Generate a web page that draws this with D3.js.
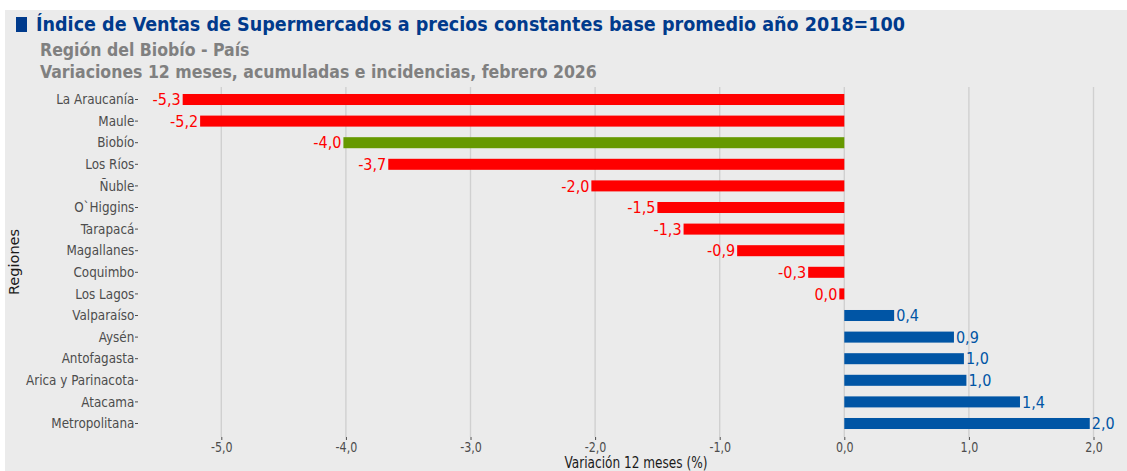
<!DOCTYPE html>
<html>
<head>
<meta charset="utf-8">
<script src="https://cdn.jsdelivr.net/npm/d3@7"></script>
<style>
  html, body { margin: 0; padding: 0; background: #fff; }
  svg { display: block; }
</style>
</head>
<body>
<script>
// datos del gráfico
const regiones = ["La Araucanía", "Maule", "Biobío", "Los Ríos", "Ñuble", "O`Higgins", "Tarapacá",
  "Magallanes", "Coquimbo", "Los Lagos", "Valparaíso", "Aysén", "Antofagasta",
  "Arica y Parinacota", "Atacama", "Metropolitana"];
const variaciones = [-5.31, -5.17, -4.02, -3.66, -2.03, -1.50, -1.29, -0.86, -0.29, -0.04,
  0.40, 0.88, 0.96, 0.98, 1.41, 1.97];
const xTicks = [-5, -4, -3, -2, -1, 0, 1, 2];

const titulo = "Índice de Ventas de Supermercados a precios constantes base promedio año 2018=100";
const subtitulo1 = "Región del Biobío - País";
const subtitulo2 = "Variaciones 12 meses, acumuladas e incidencias, febrero 2026";

const width = 1127, height = 471;
const cond = "'DejaVu Sans Condensed', 'DejaVu Sans', sans-serif";

const locale = d3.formatLocale({ decimal: ",", thousands: ".", grouping: [3], currency: ["$", ""], minus: "-" });
const fmt = locale.format(".1f");

const svg = d3.select("body").append("svg")
  .attr("width", width)
  .attr("height", height);

// fondo gris del panel
svg.append("rect")
  .attr("x", 5).attr("y", 10)
  .attr("width", width - 5).attr("height", height - 10)
  .attr("fill", "#ebebeb");

// escalas
const x = d3.scaleLinear().domain([-5, 2]).range([221.3, 1093.5]);
const y = d3.scaleBand().domain(regiones).range([88.7, 434.3])
  .paddingInner(0.49).paddingOuter(0.245);

const panelTop = 87, panelBottom = 437, panelLeft = 138;

// líneas de grilla
svg.append("g")
  .selectAll("line")
  .data(xTicks)
  .join("line")
  .attr("x1", d => x(d)).attr("x2", d => x(d))
  .attr("y1", panelTop).attr("y2", panelBottom)
  .attr("stroke", "#d0d0d0")
  .attr("stroke-width", 1.4);

// eje x
const xAxis = svg.append("g")
  .attr("transform", `translate(0,${panelBottom})`)
  .call(d3.axisBottom(x).tickValues(xTicks).tickFormat(fmt).tickSize(3).tickPadding(2));
xAxis.select(".domain").remove();
xAxis.selectAll("line").attr("stroke", "#4d4d4d");
xAxis.selectAll("text")
  .attr("fill", "#4d4d4d")
  .attr("transform", "scale(0.88,1)")
  .style("font-family", cond)
  .style("font-size", "14px");

// eje y
const yAxis = svg.append("g")
  .attr("transform", `translate(${panelLeft},0)`)
  .call(d3.axisLeft(y).tickSize(3).tickPadding(1));
yAxis.select(".domain").remove();
yAxis.selectAll("line").attr("stroke", "#4d4d4d");
yAxis.selectAll("text")
  .attr("fill", "#4d4d4d")
  .attr("transform", "scale(0.92,1)")
  .style("font-family", cond)
  .style("font-size", "14.5px");

// barras
const colorBarra = (r, v) => r === "Biobío" ? "#669900" : (v < 0 ? "#ff0000" : "#0055a5");
const colorTexto = v => v < 0 ? "#ff0000" : "#0055a5";
const datos = regiones.map((r, i) => ({ region: r, valor: variaciones[i] }));

svg.append("g")
  .selectAll("rect")
  .data(datos)
  .join("rect")
  .attr("x", d => x(Math.min(0, d.valor)))
  .attr("width", d => Math.abs(x(d.valor) - x(0)))
  .attr("y", d => y(d.region))
  .attr("height", y.bandwidth())
  .attr("fill", d => colorBarra(d.region, d.valor));

// etiquetas de valor
svg.append("g")
  .selectAll("text")
  .data(datos)
  .join("text")
  .attr("x", d => d.valor < 0 ? x(d.valor) - 2 : x(d.valor) + 2)
  .attr("y", d => y(d.region) + y.bandwidth() / 2)
  .attr("dy", "0.36em")
  .attr("text-anchor", d => d.valor < 0 ? "end" : "start")
  .attr("fill", d => colorTexto(d.valor))
  .style("font-family", cond)
  .style("font-size", "16px")
  .text(d => fmt(d.valor));

// títulos de ejes
svg.append("text")
  .attr("transform", "translate(636,468) scale(0.9,1)")
  .attr("text-anchor", "middle")
  .attr("fill", "#1a1a1a")
  .style("font-family", cond)
  .style("font-size", "15px")
  .text("Variación 12 meses (%)");

svg.append("text")
  .attr("transform", "translate(19,262) rotate(-90)")
  .attr("text-anchor", "middle")
  .attr("fill", "#1a1a1a")
  .style("font-family", "'DejaVu Sans', sans-serif")
  .style("font-size", "14.5px")
  .text("Regiones");

// título
svg.append("rect")
  .attr("x", 16).attr("y", 17)
  .attr("width", 11).attr("height", 15)
  .attr("fill", "#003a8c");

svg.append("text")
  .attr("x", 36).attr("y", 31)
  .attr("textLength", 869)
  .attr("lengthAdjust", "spacingAndGlyphs")
  .attr("fill", "#003a8c")
  .style("font-family", cond)
  .style("font-weight", "bold")
  .style("font-size", "19.5px")
  .text(titulo);

svg.append("text")
  .attr("x", 40).attr("y", 56)
  .attr("fill", "#808080")
  .style("font-family", cond)
  .style("font-weight", "bold")
  .style("font-size", "17.5px")
  .text(subtitulo1);

svg.append("text")
  .attr("x", 40).attr("y", 78)
  .attr("fill", "#808080")
  .style("font-family", cond)
  .style("font-weight", "bold")
  .style("font-size", "17.5px")
  .text(subtitulo2);
</script>
</body>
</html>
